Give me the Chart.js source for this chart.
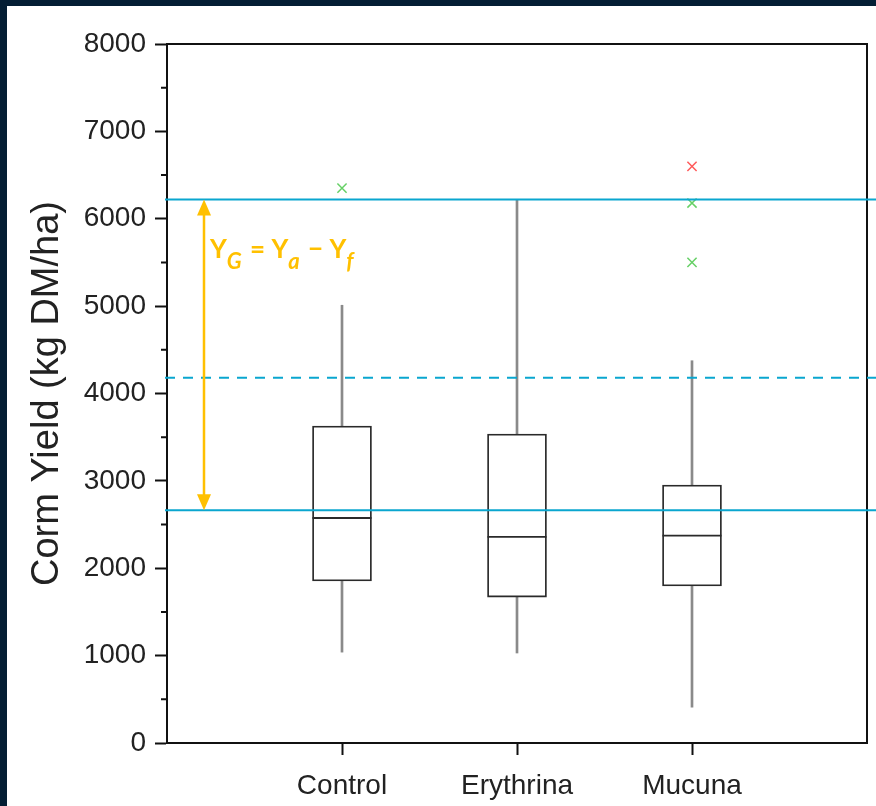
<!DOCTYPE html>
<html>
<head>
<meta charset="utf-8">
<script src="https://cdn.jsdelivr.net/npm/chart.js@4.4.1/dist/chart.umd.min.js"></script>
<style>
  html, body { margin: 0; padding: 0; background: #041e34; width: 876px; height: 806px; overflow: hidden; }
  #wrap { position: absolute; left: 7px; top: 6px; width: 869px; height: 800px; background: #ffffff; }
  canvas { display: block; }
</style>
</head>
<body>
<div id="wrap"><canvas id="chart" width="869" height="800"></canvas></div>
<script>
// Corm yield per treatment (kg DM/ha)
const categories   = ['Control', 'Erythrina', 'Mucuna'];
const whiskerLow   = [1040, 1030, 410];
const q1           = [1855, 1670, 1797];
const median       = [2575, 2360, 2373];
const q3           = [3628, 3536, 2953];
const whiskerHigh  = [5010, 6220, 4375];

// Individual points beyond the whiskers
const outlierCategory = ['Control', 'Mucuna', 'Mucuna'];
const outlierValue    = [6350, 6180, 5500];
const extremeCategory = ['Mucuna'];
const extremeValue    = [6600];

// Yield levels: attainable (Ya), mean, farm (Yf)
const yieldAttainable = 6220;
const yieldMean       = 4180;
const yieldFarm       = 2665;

const yTicks = [0, 1000, 2000, 3000, 4000, 5000, 6000, 7000, 8000];

// empty slots at each end give the axis its margins
const labels = [''].concat(categories, ['']);
const pad = arr => [null].concat(arr, [null]);
const range = (a, b) => pad(a.map((v, i) => [v, b[i]]));

const FONT = '"Liberation Sans", Arial, sans-serif';
const CYAN = '#0aa6cf';
const GOLD = '#ffc000';

const decorations = {
  id: 'decorations',
  afterDatasetsDraw(chart) {
    const { ctx, chartArea: a, scales } = chart;
    const y = scales.y;
    ctx.save();

    // frame on the top and right
    ctx.strokeStyle = '#111';
    ctx.lineWidth = 2;
    ctx.beginPath();
    ctx.moveTo(a.left, a.top);
    ctx.lineTo(a.right, a.top);
    ctx.lineTo(a.right, a.bottom);
    ctx.stroke();

    // minor ticks halfway between labelled ticks
    ctx.beginPath();
    for (let i = 0; i < yTicks.length - 1; i++) {
      const py = y.getPixelForValue((yTicks[i] + yTicks[i + 1]) / 2);
      ctx.moveTo(a.left - 6, py);
      ctx.lineTo(a.left, py);
    }
    ctx.stroke();

    // yield level lines run out to the edge of the figure
    const xEnd = chart.width;
    const hline = (v, dash) => {
      const py = y.getPixelForValue(v);
      ctx.setLineDash(dash);
      ctx.beginPath();
      ctx.moveTo(a.left - 2, py);
      ctx.lineTo(xEnd, py);
      ctx.stroke();
    };
    ctx.strokeStyle = CYAN;
    ctx.lineWidth = 2;
    hline(yieldAttainable, []);
    hline(yieldFarm, []);
    hline(yieldMean, [10, 8]);
    ctx.setLineDash([]);

    // yield gap arrow
    const ax = a.left + 37;
    const yTop = y.getPixelForValue(yieldAttainable);
    const yBot = y.getPixelForValue(yieldFarm);
    const head = 16, half = 7;
    ctx.strokeStyle = GOLD;
    ctx.fillStyle = GOLD;
    ctx.lineWidth = 2.5;
    ctx.beginPath();
    ctx.moveTo(ax, yTop + head - 2);
    ctx.lineTo(ax, yBot - head + 2);
    ctx.stroke();
    ctx.beginPath();
    ctx.moveTo(ax, yTop);
    ctx.lineTo(ax - half, yTop + head);
    ctx.lineTo(ax + half, yTop + head);
    ctx.closePath();
    ctx.fill();
    ctx.beginPath();
    ctx.moveTo(ax, yBot);
    ctx.lineTo(ax - half, yBot - head);
    ctx.lineTo(ax + half, yBot - head);
    ctx.closePath();
    ctx.fill();

    // Y_G = Y_a − Y_f
    const main = 'bold 26px Lato, "Open Sans", sans-serif';
    const sub = 'italic bold 22px Lato, "Open Sans", sans-serif';
    const parts = [
      ['Y', main, 0], ['G', sub, 11], [' = Y', main, 0], ['a', sub, 11],
      [' \u2212 Y', main, 0], ['f', sub, 11]
    ];
    let tx = ax + 6;
    const base = yTop + 58;
    ctx.textBaseline = 'alphabetic';
    ctx.textAlign = 'left';
    for (const [t, f, dy] of parts) {
      ctx.font = f;
      ctx.fillText(t, tx, base + dy);
      tx += ctx.measureText(t).width + (dy ? 2 : 0);
    }
    ctx.restore();
  }
};

const noPad = s => { s.paddingLeft = 0; s.paddingRight = 0; s.paddingTop = 0; s.paddingBottom = 0; };

new Chart(document.getElementById('chart'), {
  data: {
    labels: labels,
    datasets: [
      {
        type: 'bar', label: 'Lower whisker', data: range(whiskerLow, q1),
        backgroundColor: '#8a8a8a', borderWidth: 0, barThickness: 2, grouped: false, order: 3
      },
      {
        type: 'bar', label: 'Upper whisker', data: range(q3, whiskerHigh),
        backgroundColor: '#8a8a8a', borderWidth: 0, barThickness: 2, grouped: false, order: 3
      },
      {
        type: 'bar', label: 'Interquartile range', data: range(q1, q3),
        backgroundColor: '#ffffff', borderColor: '#2a2a2a', borderWidth: 1.8,
        borderSkipped: false, barThickness: 59, grouped: false, order: 2
      },
      {
        type: 'line', label: 'Median', data: pad(median), showLine: false,
        pointStyle: 'line', pointRadius: 29.5, pointBorderWidth: 1.8,
        pointBorderColor: '#2a2a2a', pointHoverRadius: 29.5, order: 1
      },
      {
        type: 'line', label: 'Outliers', showLine: false,
        data: outlierCategory.map((c, i) => ({ x: c, y: outlierValue[i] })),
        pointStyle: 'crossRot', pointRadius: 6.5, pointBorderWidth: 1.5,
        pointBorderColor: '#66d066', order: 0
      },
      {
        type: 'line', label: 'Extremes', showLine: false,
        data: extremeCategory.map((c, i) => ({ x: c, y: extremeValue[i] })),
        pointStyle: 'crossRot', pointRadius: 6.5, pointBorderWidth: 1.5,
        pointBorderColor: '#ff5a5a', order: 0
      }
    ]
  },
  options: {
    responsive: false,
    animation: false,
    devicePixelRatio: 1,
    layout: { autoPadding: false, padding: { left: 0, top: 38, right: 9, bottom: 0 } },
    plugins: { legend: { display: false }, tooltip: { enabled: false } },
    scales: {
      x: {
        type: 'category',
        offset: false,
        grid: {
          offset: false,
          drawOnChartArea: false,
          tickLength: 12,
          tickWidth: 2,
          tickColor: c => (c.tick && c.tick.label ? '#111' : 'rgba(0,0,0,0)')
        },
        border: { display: true, color: '#111', width: 2 },
        ticks: {
          autoSkip: false, maxRotation: 0, padding: 14,
          color: '#222', font: { family: FONT, size: 28 }
        },
        afterFit: s => { s.height = 63; noPad(s); }
      },
      y: {
        min: 0, max: 8000,
        afterBuildTicks: s => { s.ticks = yTicks.map(v => ({ value: v })); },
        grid: { drawOnChartArea: false, tickLength: 12, tickWidth: 2, tickColor: '#111' },
        border: { display: true, color: '#111', width: 2 },
        ticks: {
          padding: 9, color: '#222', font: { family: FONT, size: 28 },
          callback: v => String(v)
        },
        title: {
          display: true, text: 'Corm Yield (kg DM/ha)', color: '#222',
          font: { family: FONT, size: 38 }, padding: { top: 18, bottom: 0 }
        },
        afterFit: s => { s.width = 160; noPad(s); }
      }
    }
  },
  plugins: [decorations]
});
</script>
</body>
</html>
